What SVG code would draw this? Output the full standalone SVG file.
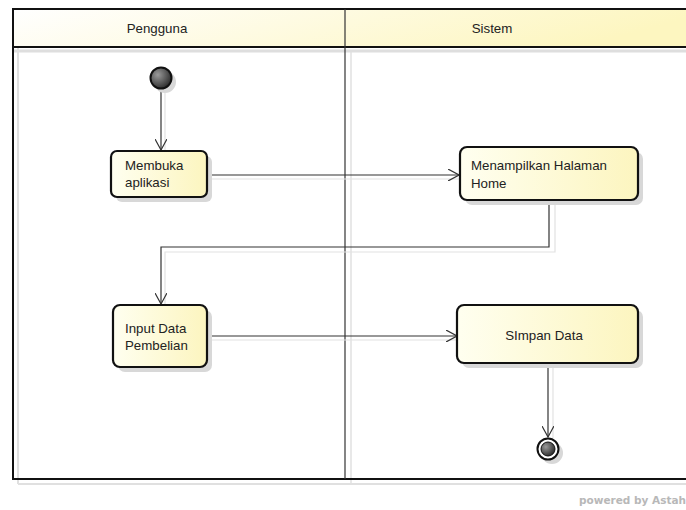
<svg xmlns="http://www.w3.org/2000/svg" width="686" height="510" viewBox="0 0 686 510">
<defs>
<linearGradient id="hdr" x1="0" y1="0" x2="1" y2="0.2"><stop offset="0" stop-color="#ffffff"/><stop offset="1" stop-color="#fdf6c0"/></linearGradient>
<linearGradient id="nd" x1="0" y1="0" x2="1" y2="0"><stop offset="0" stop-color="#fffff0"/><stop offset="1" stop-color="#fcf5bf"/></linearGradient>
<radialGradient id="ball" cx="0.35" cy="0.35" r="0.7"><stop offset="0" stop-color="#9a9a9a"/><stop offset="1" stop-color="#2a2a2a"/></radialGradient>
<marker id="arr" viewBox="0 0 12 12" refX="11" refY="6" markerWidth="12" markerHeight="12" markerUnits="userSpaceOnUse" orient="auto"><path d="M0,0 L11,6 L0,12" fill="none" stroke="#333" stroke-width="1.2"/></marker>
</defs>
<style>
.node rect.b{fill:url(#nd);stroke:#111;stroke-width:2.2}
.sh{fill:#d8d8d8}
.t{font-family:"Liberation Sans",Arial,sans-serif;font-size:13.3px;fill:#222}
.c{fill:none;stroke:#333;stroke-width:1.2}
.cs{fill:none;stroke:#e2e2e2;stroke-width:1.2}
</style>
<rect width="686" height="510" fill="#fff"/>
<g id="frame">
<line x1="18" y1="484" x2="686" y2="484" stroke="#e0e0e0" stroke-width="2"/>
<line x1="18" y1="14" x2="18" y2="484" stroke="#e0e0e0" stroke-width="2"/>
<line x1="351" y1="50" x2="351" y2="484" stroke="#e0e0e0" stroke-width="1.5"/>
<line x1="14" y1="51" x2="686" y2="51" stroke="#dedede" stroke-width="3"/>
<rect x="13" y="9" width="680" height="38" fill="url(#hdr)"/>
<rect x="13" y="9" width="680" height="470" fill="none" stroke="#111" stroke-width="2"/>
<line x1="13" y1="47" x2="686" y2="47" stroke="#111" stroke-width="2"/>
<line x1="345" y1="9" x2="345" y2="479" stroke="#333" stroke-width="1.2"/>
<text class="t" x="157" y="33" text-anchor="middle">Pengguna</text>
<text class="t" x="492" y="33" text-anchor="middle">Sistem</text>
</g>
<g id="connectors">
<path class="cs" d="M165,92 V152"/>
<path class="c" d="M161,89 V150" marker-end="url(#arr)"/>
<path class="cs" d="M207,179 H460"/>
<path class="c" d="M208,175 H459" marker-end="url(#arr)"/>
<path class="cs" d="M555,202 V252 H165 V305"/>
<path class="c" d="M549,201 V247 H161 V304" marker-end="url(#arr)"/>
<path class="cs" d="M207,340 H458"/>
<path class="c" d="M208,336 H457" marker-end="url(#arr)"/>
<path class="cs" d="M553,364 V438"/>
<path class="c" d="M548,364 V437" marker-end="url(#arr)"/>
</g>
<g id="initial">
<circle cx="165" cy="82" r="11" class="sh"/>
<circle cx="161" cy="78" r="10.5" fill="url(#ball)" stroke="#111" stroke-width="2"/>
</g>
<g id="membuka" class="node">
<rect class="sh" x="116" y="156" width="96" height="46" rx="6"/>
<rect class="b" x="111" y="151" width="96" height="46" rx="6"/>
<text class="t" x="125" y="170">Membuka</text>
<text class="t" x="125" y="187">aplikasi</text>
</g>
<g id="menampilkan" class="node">
<rect class="sh" x="465" y="152" width="178" height="53" rx="7"/>
<rect class="b" x="460" y="147" width="178" height="53" rx="7"/>
<text class="t" x="471" y="170">Menampilkan Halaman</text>
<text class="t" x="471" y="188">Home</text>
</g>
<g id="input" class="node">
<rect class="sh" x="118" y="310" width="94" height="62" rx="7"/>
<rect class="b" x="113" y="305" width="94" height="62" rx="7"/>
<text class="t" x="125" y="333">Input Data</text>
<text class="t" x="125" y="350">Pembelian</text>
</g>
<g id="simpan" class="node">
<rect class="sh" x="462" y="310" width="181" height="58" rx="7"/>
<rect class="b" x="457" y="305" width="181" height="58" rx="7"/>
<text class="t" x="544" y="340" text-anchor="middle">SImpan Data</text>
</g>
<g id="final">
<circle cx="552" cy="453" r="11" class="sh"/>
<circle cx="548" cy="449" r="10.5" fill="#fff" stroke="#111" stroke-width="2"/>
<circle cx="548" cy="449" r="7" fill="url(#ball)" stroke="#111" stroke-width="1"/>
</g>
<text x="686" y="504" text-anchor="end" font-family="'DejaVu Sans',sans-serif" font-weight="bold" font-size="10.5" fill="#b8b8b8">powered by Astah</text>
</svg>
